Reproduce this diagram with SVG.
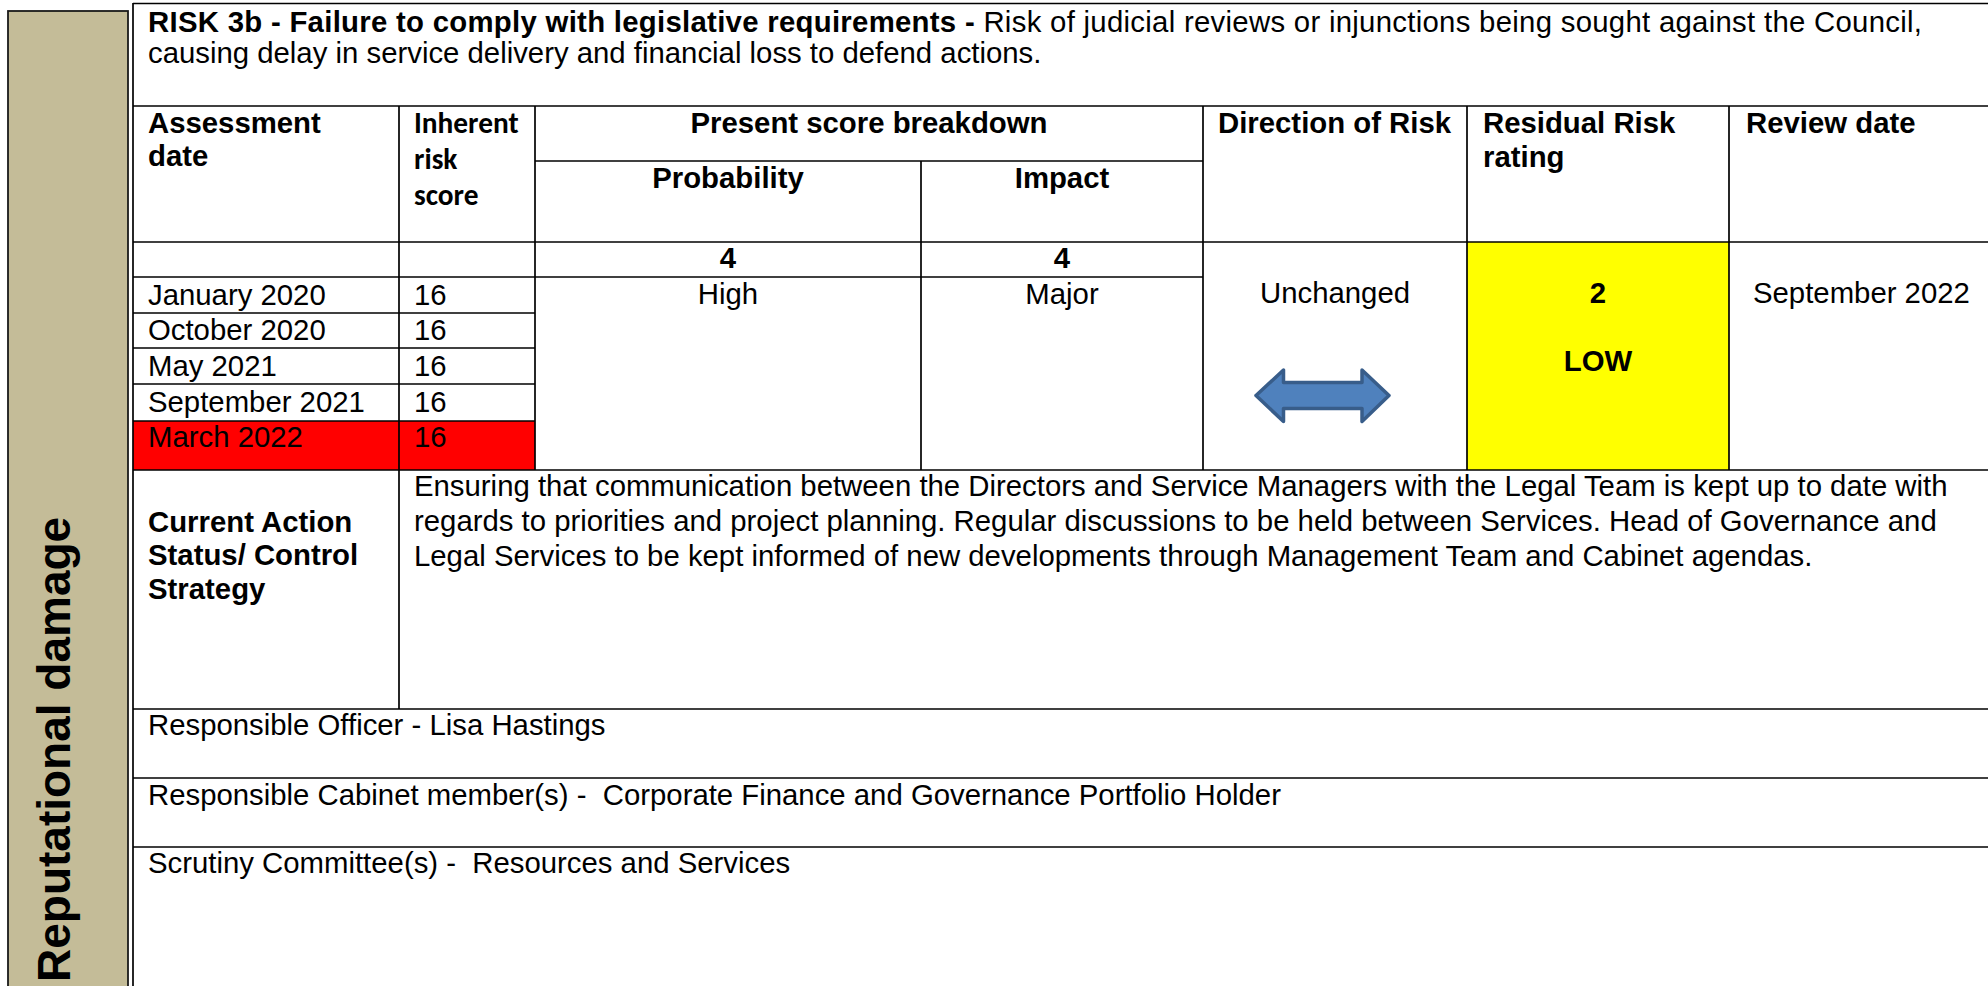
<svg xmlns="http://www.w3.org/2000/svg" width="1988" height="986" viewBox="0 0 1988 986">
<style>
.t{font-family:"Liberation Sans",Arial,sans-serif;font-size:29.33px;fill:#000}
.b{font-weight:bold}
.c{text-anchor:middle}
.cal{font-family:Carlito,Lato,"Liberation Sans",sans-serif;font-weight:bold;font-size:29.33px;fill:#000}
.ln{stroke:#000;stroke-width:1.7;fill:none}
</style>
<rect width="1988" height="986" fill="#ffffff"/>
<g id="sidebar">
<rect x="8" y="11" width="120" height="990" fill="#C4BC98" stroke="#1a1a1a" stroke-width="1.8"/>
<text class="t b" font-size="46" style="font-size:46px" transform="translate(70,982) rotate(-90)">Reputational damage</text>
</g>
<g id="cell-yellow"><rect x="1467" y="242" width="262" height="228" fill="#FFFF00"/></g>
<g id="cell-red"><rect x="133" y="421" width="402" height="49" fill="#FF0000"/></g>
<g id="grid">
<line class="ln" x1="133" y1="3" x2="133" y2="986"/>
<line class="ln" x1="133" y1="3.5" x2="1988" y2="3.5"/>
<line class="ln" x1="133" y1="106" x2="1988" y2="106"/>
<line class="ln" x1="535" y1="161" x2="1203" y2="161"/>
<line class="ln" x1="133" y1="242" x2="1988" y2="242"/>
<line class="ln" x1="133" y1="277" x2="1203" y2="277"/>
<line class="ln" x1="133" y1="313" x2="535" y2="313"/>
<line class="ln" x1="133" y1="348" x2="535" y2="348"/>
<line class="ln" x1="133" y1="384" x2="535" y2="384"/>
<line class="ln" x1="133" y1="421" x2="535" y2="421"/>
<line class="ln" x1="133" y1="470" x2="1988" y2="470"/>
<line class="ln" x1="133" y1="709" x2="1988" y2="709"/>
<line class="ln" x1="133" y1="778" x2="1988" y2="778"/>
<line class="ln" x1="133" y1="847" x2="1988" y2="847"/>
<line class="ln" x1="399" y1="106" x2="399" y2="709"/>
<line class="ln" x1="535" y1="106" x2="535" y2="470"/>
<line class="ln" x1="921" y1="161" x2="921" y2="470"/>
<line class="ln" x1="1203" y1="106" x2="1203" y2="470"/>
<line class="ln" x1="1467" y1="106" x2="1467" y2="470"/>
<line class="ln" x1="1729" y1="106" x2="1729" y2="470"/>
</g>
<g id="title">
<text class="t" x="148" y="31.7" textLength="1774" lengthAdjust="spacing"><tspan font-weight="bold">RISK 3b - Failure to comply with legislative requirements -</tspan> Risk of judicial reviews or injunctions being sought against the Council,</text>
<text class="t" x="148" y="63.3">causing delay in service delivery and financial loss to defend actions.</text>
</g>
<g id="header">
<text class="t b" x="148" y="133.3">Assessment</text>
<text class="t b" x="148" y="166.3">date</text>
<text class="cal" x="414" y="133.3">Inherent</text>
<text class="cal" x="414" y="169.3">risk</text>
<text class="cal" x="414" y="205.3">score</text>
<text class="t b c" x="869" y="133.3">Present score breakdown</text>
<text class="t b c" x="728" y="188.3">Probability</text>
<text class="t b c" x="1062" y="188.3">Impact</text>
<text class="t b" x="1218" y="133.3">Direction of Risk</text>
<text class="t b" x="1483" y="133.3">Residual Risk</text>
<text class="t b" x="1483" y="167.3">rating</text>
<text class="t b" x="1746" y="133.3">Review date</text>
</g>
<g id="scores">
<text class="t b c" x="728" y="268.3">4</text>
<text class="t b c" x="1062" y="268.3">4</text>
<text class="t c" x="728" y="304.3">High</text>
<text class="t c" x="1062" y="304.3">Major</text>
</g>
<g id="dates">
<text class="t" x="148" y="304.5">January 2020</text>
<text class="t" x="414" y="304.5">16</text>
<text class="t" x="148" y="340.3">October 2020</text>
<text class="t" x="414" y="340.3">16</text>
<text class="t" x="148" y="375.5">May 2021</text>
<text class="t" x="414" y="375.5">16</text>
<text class="t" x="148" y="411.5">September 2021</text>
<text class="t" x="414" y="411.5">16</text>
<text class="t" x="148" y="447">March 2022</text>
<text class="t" x="414" y="447">16</text>
</g>
<g id="direction">
<text class="t c" x="1335" y="303.3">Unchanged</text>
<path d="M1256,395.5 L1283.5,370 L1283.5,382.5 L1362,382.5 L1362,370 L1389,395.5 L1362,421.5 L1362,408.5 L1283.5,408.5 L1283.5,421.5 Z" fill="#4F81BD" stroke="#385D8A" stroke-width="3.5" stroke-linejoin="round"/>
</g>
<g id="residual">
<text class="t b c" x="1598" y="303.3">2</text>
<text class="t b c" x="1598" y="371">LOW</text>
</g>
<g id="review">
<text class="t" x="1753" y="303.3">September 2022</text>
</g>
<g id="control">
<text class="t b" x="148" y="531.5">Current Action</text>
<text class="t b" x="148" y="565">Status/ Control</text>
<text class="t b" x="148" y="599">Strategy</text>
<text class="t" x="414" y="496">Ensuring that communication between the Directors and Service Managers with the Legal Team is kept up to date with</text>
<text class="t" x="414" y="531">regards to priorities and project planning. Regular discussions to be held between Services. Head of Governance and</text>
<text class="t" x="414" y="565.5">Legal Services to be kept informed of new developments through Management Team and Cabinet agendas.</text>
</g>
<g id="officer"><text class="t" x="148" y="735">Responsible Officer - Lisa Hastings</text></g>
<g id="cabinet"><text class="t" x="148" y="805" xml:space="preserve">Responsible Cabinet member(s) -  Corporate Finance and Governance Portfolio Holder</text></g>
<g id="scrutiny"><text class="t" x="148" y="873" xml:space="preserve">Scrutiny Committee(s) -  Resources and Services</text></g>
</svg>
